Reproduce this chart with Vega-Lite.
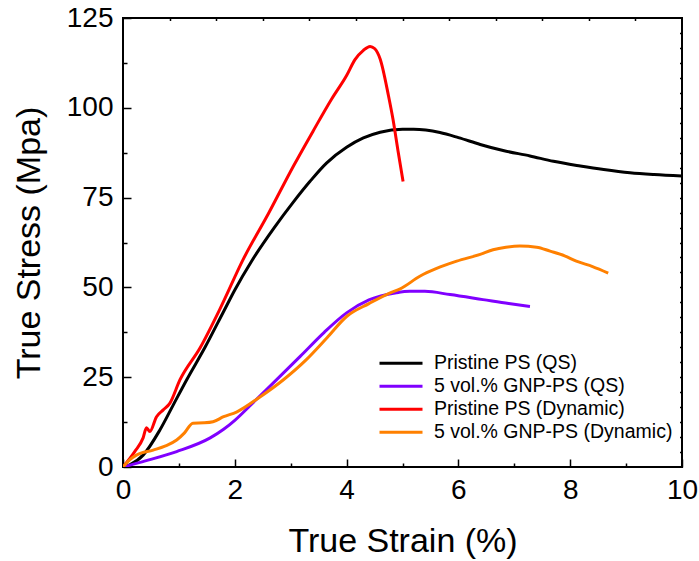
{
  "$schema": "https://vega.github.io/schema/vega-lite/v6.json",
  "width": 559,
  "height": 449,
  "autosize": {"type": "none"},
  "padding": {"left": 123, "top": 18, "right": 17, "bottom": 94},
  "background": "white",
  "config": {
    "view": {"stroke": "black", "strokeWidth": 2},
    "font": "Liberation Sans",
    "axis": {"grid": false, "domain": false, "tickColor": "black", "tickWidth": 1.5, "labelColor": "black", "titleColor": "black", "labelFont": "Liberation Sans", "titleFont": "Liberation Sans", "titleFontWeight": "normal"}
  },
  "data": {"values": [
    {"series": "Pristine PS (QS)", "strain": 0, "stress": 0},
    {"series": "Pristine PS (QS)", "strain": 0.12, "stress": 0.6},
    {"series": "Pristine PS (QS)", "strain": 0.36, "stress": 3.3},
    {"series": "Pristine PS (QS)", "strain": 0.66, "stress": 10.3},
    {"series": "Pristine PS (QS)", "strain": 0.9, "stress": 17.3},
    {"series": "Pristine PS (QS)", "strain": 1.14, "stress": 24.3},
    {"series": "Pristine PS (QS)", "strain": 1.47, "stress": 33.4},
    {"series": "Pristine PS (QS)", "strain": 1.8, "stress": 43.3},
    {"series": "Pristine PS (QS)", "strain": 2.0, "stress": 49.3},
    {"series": "Pristine PS (QS)", "strain": 2.3, "stress": 57.3},
    {"series": "Pristine PS (QS)", "strain": 2.7, "stress": 66.5},
    {"series": "Pristine PS (QS)", "strain": 3.05, "stress": 73.8},
    {"series": "Pristine PS (QS)", "strain": 3.35, "stress": 79.6},
    {"series": "Pristine PS (QS)", "strain": 3.64, "stress": 84.6},
    {"series": "Pristine PS (QS)", "strain": 4.0, "stress": 89.0},
    {"series": "Pristine PS (QS)", "strain": 4.3, "stress": 91.6},
    {"series": "Pristine PS (QS)", "strain": 4.6, "stress": 93.2},
    {"series": "Pristine PS (QS)", "strain": 5.0, "stress": 94},
    {"series": "Pristine PS (QS)", "strain": 5.2, "stress": 94},
    {"series": "Pristine PS (QS)", "strain": 5.67, "stress": 93.1},
    {"series": "Pristine PS (QS)", "strain": 6.0, "stress": 91.7},
    {"series": "Pristine PS (QS)", "strain": 6.39, "stress": 89.8},
    {"series": "Pristine PS (QS)", "strain": 6.8, "stress": 88.1},
    {"series": "Pristine PS (QS)", "strain": 7.28, "stress": 86.6},
    {"series": "Pristine PS (QS)", "strain": 7.7, "stress": 85.1},
    {"series": "Pristine PS (QS)", "strain": 8.18, "stress": 83.8},
    {"series": "Pristine PS (QS)", "strain": 8.6, "stress": 82.8},
    {"series": "Pristine PS (QS)", "strain": 9.07, "stress": 81.9},
    {"series": "Pristine PS (QS)", "strain": 9.5, "stress": 81.4},
    {"series": "Pristine PS (QS)", "strain": 10, "stress": 81},

    {"series": "5 vol.% GNP-PS (QS)", "strain": 0, "stress": 0},
    {"series": "5 vol.% GNP-PS (QS)", "strain": 0.4, "stress": 1.7},
    {"series": "5 vol.% GNP-PS (QS)", "strain": 0.96, "stress": 4.3},
    {"series": "5 vol.% GNP-PS (QS)", "strain": 1.56, "stress": 8.1},
    {"series": "5 vol.% GNP-PS (QS)", "strain": 1.8, "stress": 10.5},
    {"series": "5 vol.% GNP-PS (QS)", "strain": 2.0, "stress": 13},
    {"series": "5 vol.% GNP-PS (QS)", "strain": 2.3, "stress": 17.5},
    {"series": "5 vol.% GNP-PS (QS)", "strain": 2.69, "stress": 23.4},
    {"series": "5 vol.% GNP-PS (QS)", "strain": 3.17, "stress": 30.8},
    {"series": "5 vol.% GNP-PS (QS)", "strain": 3.6, "stress": 37.5},
    {"series": "5 vol.% GNP-PS (QS)", "strain": 4.0, "stress": 42.9},
    {"series": "5 vol.% GNP-PS (QS)", "strain": 4.4, "stress": 46.5},
    {"series": "5 vol.% GNP-PS (QS)", "strain": 4.89, "stress": 48.5},
    {"series": "5 vol.% GNP-PS (QS)", "strain": 5.13, "stress": 48.9},
    {"series": "5 vol.% GNP-PS (QS)", "strain": 5.4, "stress": 48.9},
    {"series": "5 vol.% GNP-PS (QS)", "strain": 5.85, "stress": 48},
    {"series": "5 vol.% GNP-PS (QS)", "strain": 6.44, "stress": 46.6},
    {"series": "5 vol.% GNP-PS (QS)", "strain": 6.9, "stress": 45.5},
    {"series": "5 vol.% GNP-PS (QS)", "strain": 7.28, "stress": 44.7},

    {"series": "Pristine PS (Dynamic)", "strain": 0, "stress": 0},
    {"series": "Pristine PS (Dynamic)", "strain": 0.21, "stress": 4.3},
    {"series": "Pristine PS (Dynamic)", "strain": 0.36, "stress": 8.1},
    {"series": "Pristine PS (Dynamic)", "strain": 0.42, "stress": 10.9},
    {"series": "Pristine PS (Dynamic)", "strain": 0.48, "stress": 9.9},
    {"series": "Pristine PS (Dynamic)", "strain": 0.6, "stress": 14},
    {"series": "Pristine PS (Dynamic)", "strain": 0.72, "stress": 15.9},
    {"series": "Pristine PS (Dynamic)", "strain": 0.84, "stress": 17.8},
    {"series": "Pristine PS (Dynamic)", "strain": 1.02, "stress": 24.3},
    {"series": "Pristine PS (Dynamic)", "strain": 1.38, "stress": 33.2},
    {"series": "Pristine PS (Dynamic)", "strain": 1.75, "stress": 44.5},
    {"series": "Pristine PS (Dynamic)", "strain": 2.15, "stress": 57.8},
    {"series": "Pristine PS (Dynamic)", "strain": 2.6, "stress": 70.5},
    {"series": "Pristine PS (Dynamic)", "strain": 3.05, "stress": 83.8},
    {"series": "Pristine PS (Dynamic)", "strain": 3.4, "stress": 93.5},
    {"series": "Pristine PS (Dynamic)", "strain": 3.73, "stress": 102.4},
    {"series": "Pristine PS (Dynamic)", "strain": 4.0, "stress": 109},
    {"series": "Pristine PS (Dynamic)", "strain": 4.15, "stress": 113.4},
    {"series": "Pristine PS (Dynamic)", "strain": 4.3, "stress": 116},
    {"series": "Pristine PS (Dynamic)", "strain": 4.42, "stress": 117.1},
    {"series": "Pristine PS (Dynamic)", "strain": 4.5, "stress": 116.5},
    {"series": "Pristine PS (Dynamic)", "strain": 4.6, "stress": 113.6},
    {"series": "Pristine PS (Dynamic)", "strain": 4.75, "stress": 103.3},
    {"series": "Pristine PS (Dynamic)", "strain": 4.83, "stress": 96.8},
    {"series": "Pristine PS (Dynamic)", "strain": 4.92, "stress": 88},
    {"series": "Pristine PS (Dynamic)", "strain": 5.01, "stress": 79.5},

    {"series": "5 vol.% GNP-PS (Dynamic)", "strain": 0, "stress": 0},
    {"series": "5 vol.% GNP-PS (Dynamic)", "strain": 0.12, "stress": 2},
    {"series": "5 vol.% GNP-PS (Dynamic)", "strain": 0.24, "stress": 3.3},
    {"series": "5 vol.% GNP-PS (Dynamic)", "strain": 0.54, "stress": 4.7},
    {"series": "5 vol.% GNP-PS (Dynamic)", "strain": 0.75, "stress": 5.8},
    {"series": "5 vol.% GNP-PS (Dynamic)", "strain": 0.96, "stress": 7.5},
    {"series": "5 vol.% GNP-PS (Dynamic)", "strain": 1.1, "stress": 9.5},
    {"series": "5 vol.% GNP-PS (Dynamic)", "strain": 1.25, "stress": 12.2},
    {"series": "5 vol.% GNP-PS (Dynamic)", "strain": 1.45, "stress": 12.3},
    {"series": "5 vol.% GNP-PS (Dynamic)", "strain": 1.61, "stress": 12.6},
    {"series": "5 vol.% GNP-PS (Dynamic)", "strain": 1.8, "stress": 14},
    {"series": "5 vol.% GNP-PS (Dynamic)", "strain": 2.03, "stress": 15.3},
    {"series": "5 vol.% GNP-PS (Dynamic)", "strain": 2.45, "stress": 19.5},
    {"series": "5 vol.% GNP-PS (Dynamic)", "strain": 2.87, "stress": 24.3},
    {"series": "5 vol.% GNP-PS (Dynamic)", "strain": 3.28, "stress": 29.9},
    {"series": "5 vol.% GNP-PS (Dynamic)", "strain": 3.65, "stress": 36},
    {"series": "5 vol.% GNP-PS (Dynamic)", "strain": 4.0, "stress": 41.9},
    {"series": "5 vol.% GNP-PS (Dynamic)", "strain": 4.4, "stress": 45.5},
    {"series": "5 vol.% GNP-PS (Dynamic)", "strain": 4.78, "stress": 48.5},
    {"series": "5 vol.% GNP-PS (Dynamic)", "strain": 4.96, "stress": 49.6},
    {"series": "5 vol.% GNP-PS (Dynamic)", "strain": 5.31, "stress": 53.1},
    {"series": "5 vol.% GNP-PS (Dynamic)", "strain": 5.6, "stress": 55.2},
    {"series": "5 vol.% GNP-PS (Dynamic)", "strain": 5.97, "stress": 57.3},
    {"series": "5 vol.% GNP-PS (Dynamic)", "strain": 6.39, "stress": 59.2},
    {"series": "5 vol.% GNP-PS (Dynamic)", "strain": 6.62, "stress": 60.5},
    {"series": "5 vol.% GNP-PS (Dynamic)", "strain": 6.85, "stress": 61.2},
    {"series": "5 vol.% GNP-PS (Dynamic)", "strain": 7.1, "stress": 61.5},
    {"series": "5 vol.% GNP-PS (Dynamic)", "strain": 7.4, "stress": 61.2},
    {"series": "5 vol.% GNP-PS (Dynamic)", "strain": 7.64, "stress": 60.1},
    {"series": "5 vol.% GNP-PS (Dynamic)", "strain": 7.9, "stress": 58.8},
    {"series": "5 vol.% GNP-PS (Dynamic)", "strain": 8.11, "stress": 57.3},
    {"series": "5 vol.% GNP-PS (Dynamic)", "strain": 8.4, "stress": 55.8},
    {"series": "5 vol.% GNP-PS (Dynamic)", "strain": 8.68, "stress": 54}
  ]},
  "layer": [
    {
      "mark": {"type": "line", "strokeWidth": 3, "clip": true, "interpolate": "monotone"},
      "encoding": {
        "x": {"field": "strain", "type": "quantitative",
              "scale": {"domain": [0, 10], "nice": false, "zero": false},
              "axis": {"orient": "bottom", "title": "True Strain (%)", "values": [0,1,2,3,4,5,6,7,8,9,10],
                       "labelExpr": "datum.value % 2 === 0 ? datum.label : ''",
                       "tickSize": {"condition": {"test": "datum.value % 2 === 0", "value": -8}, "value": -4},
                       "labelPadding": 17, "labelFontSize": 28, "titleFontSize": 34, "titlePadding": 20, "labelFlush": false}},
        "y": {"field": "stress", "type": "quantitative",
              "scale": {"domain": [0, 125], "nice": false},
              "axis": {"orient": "left", "title": "True Stress (Mpa)", "values": [0,12.5,25,37.5,50,62.5,75,87.5,100,112.5,125],
                       "labelExpr": "datum.value % 25 === 0 ? datum.label : ''",
                       "tickSize": {"condition": {"test": "datum.value % 25 === 0", "value": -8}, "value": -4},
                       "labelPadding": 18, "labelFontSize": 28, "titleFontSize": 34, "titlePadding": 20, "labelFlush": false}},
        "color": {"field": "series", "type": "nominal",
                  "scale": {"domain": ["Pristine PS (QS)", "5 vol.% GNP-PS (QS)", "Pristine PS (Dynamic)", "5 vol.% GNP-PS (Dynamic)"],
                            "range": ["#000000", "#8000ff", "#ff0000", "#ff8000"]},
                  "legend": {"orient": "none", "legendX": 255, "legendY": 334, "title": null,
                             "symbolType": "stroke", "symbolSize": 1849, "symbolStrokeWidth": 3,
                             "clipHeight": 22.5, "rowPadding": 0, "padding": 0,
                             "labelFontSize": 19.5, "labelFont": "Liberation Sans", "labelColor": "black", "labelOffset": 10, "labelLimit": 400}}
      }
    },
    {
      "mark": {"type": "line", "strokeOpacity": 0},
      "encoding": {
        "x": {"field": "strain", "type": "quantitative",
              "axis": {"orient": "top", "title": null, "labels": false, "values": [0.8333,1.6667,2.5,3.3333,4.1667,5,5.8333,6.6667,7.5,8.3333,9.1667], "tickSize": -2.5}},
        "y": {"field": "stress", "type": "quantitative",
              "axis": {"orient": "right", "title": null, "labels": false, "values": [4.1667,8.3333,12.5,16.6667,20.8333,25,29.1667,33.3333,37.5,41.6667,45.8333,50,54.1667,58.3333,62.5,66.6667,70.8333,75,79.1667,83.3333,87.5,91.6667,95.8333,100,104.1667,108.3333,112.5,116.6667,120.8333], "tickSize": -2.5}},
        "detail": {"field": "series"}
      }
    }
  ],
  "resolve": {"axis": {"x": "independent", "y": "independent"}}
}
